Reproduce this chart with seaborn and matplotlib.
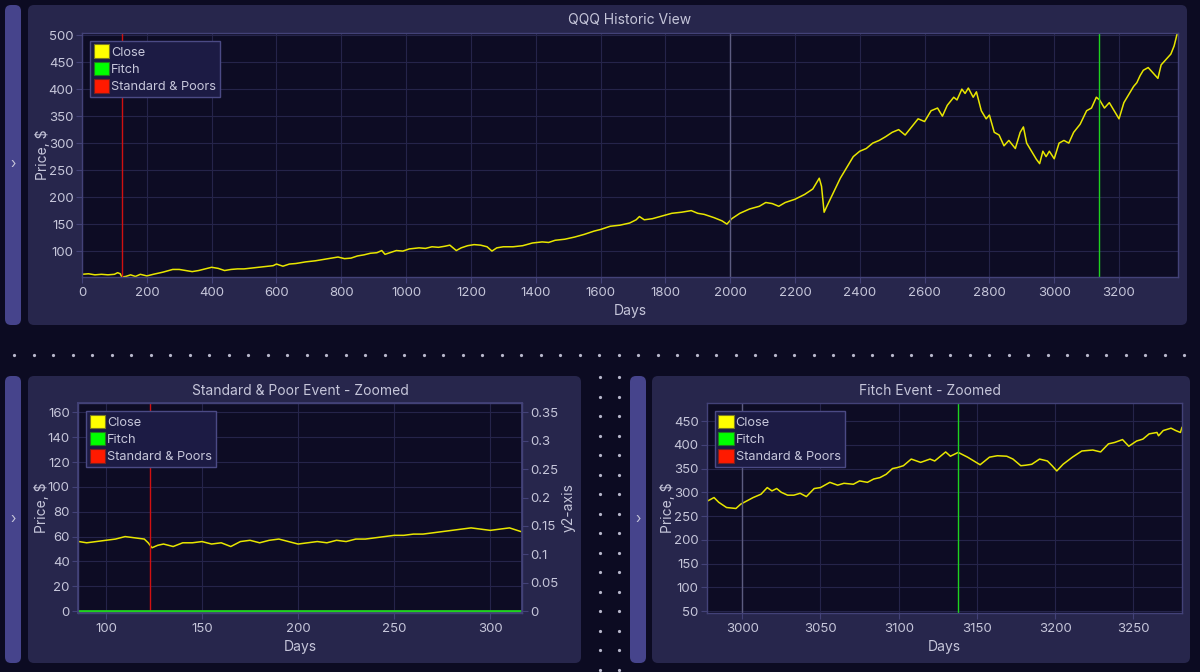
import numpy as np
import matplotlib
matplotlib.use("Agg")
import matplotlib.pyplot as plt
import seaborn as sns
from matplotlib.patches import FancyBboxPatch, Patch
from matplotlib.lines import Line2D
from matplotlib.transforms import IdentityTransform
from matplotlib.ticker import FuncFormatter

# --- Data ---
# full history (day index, close price)
hist_days = [0, 20, 40, 60, 80, 100, 110, 118, 123, 135, 150, 165, 180, 200, 220, 250, 280, 300,
             320, 340, 360, 380, 400, 420, 440, 460, 480, 500, 530, 560, 590, 600, 620, 640, 660,
             690, 720, 750, 770, 790, 810, 830, 850, 870, 890, 910, 925, 935, 950, 970, 990, 1010,
             1040, 1060, 1080, 1100, 1120, 1135, 1145, 1155, 1170, 1190, 1210, 1230, 1250, 1265,
             1280, 1300, 1330, 1360, 1390, 1420, 1440, 1460, 1490, 1520, 1550, 1580, 1600, 1630,
             1660, 1690, 1710, 1720, 1735, 1760, 1790, 1820, 1850, 1880, 1900, 1920, 1950, 1975,
             1990, 2005, 2030, 2060, 2090, 2110, 2130, 2150, 2170, 2200, 2230, 2255, 2275, 2282,
             2290, 2300, 2320, 2340, 2360, 2380, 2400, 2420, 2440, 2460, 2480, 2500, 2520, 2540,
             2560, 2580, 2600, 2620, 2640, 2655, 2670, 2690, 2700, 2715, 2725, 2735, 2750, 2760,
             2775, 2790, 2800, 2815, 2830, 2845, 2860, 2880, 2895, 2905, 2915, 2930, 2945, 2955,
             2965, 2975, 2985, 3000, 3015, 3030, 3045, 3060, 3080, 3100, 3115, 3130, 3140, 3155,
             3170, 3185, 3200, 3215, 3230, 3245, 3255, 3265, 3275, 3290, 3305, 3320, 3330, 3345,
             3360, 3370, 3380]
hist_close = [57, 58, 56, 57, 56, 57, 60, 58, 52, 53, 56, 53, 57, 54, 57, 61, 66, 66,
              64, 62, 64, 67, 70, 68, 64, 66, 67, 67, 69, 71, 73, 76, 72, 76, 77,
              80, 82, 85, 87, 89, 86, 87, 91, 93, 96, 97, 101, 94, 97, 101, 100, 104,
              106, 105, 108, 107, 109, 111, 106, 101, 106, 110, 112, 111, 108, 100,
              106, 108, 108, 110, 115, 117, 116, 120, 122, 126, 131, 137, 140, 146,
              148, 152, 158, 164, 158, 160, 165, 170, 172, 175, 170, 168, 162, 156,
              150, 160, 170, 178, 183, 190, 188, 183, 190, 196, 205, 215, 235, 220,
              172, 185, 210, 235, 255, 275, 285, 290, 300, 305, 312, 320, 325, 315,
              330, 345, 340, 360, 365, 350, 370, 385, 380, 400, 392, 402, 385, 395,
              360, 345, 352, 320, 315, 295, 305, 290, 320, 330, 300, 285, 270, 262,
              285, 275, 285, 271, 300, 305, 300, 320, 335, 360, 365, 385, 380, 365,
              375, 360, 345, 375, 390, 405, 412, 425, 435, 440, 430, 420, 445, 455,
              465, 480, 504]

# S&P zoom window
sp_days = [86, 90, 95, 100, 105, 110, 115, 120, 122, 124, 127, 130, 135, 140, 145, 150, 155,
           160, 165, 170, 175, 180, 185, 190, 195, 200, 205, 210, 215, 220, 225, 230, 235,
           240, 245, 250, 255, 260, 265, 270, 275, 280, 285, 290, 295, 300, 305, 310, 316]
sp_close = [56, 55, 56, 57, 58, 60, 59, 58, 55, 51, 53, 54, 52, 55, 55, 56, 54,
            55, 52, 56, 57, 55, 57, 58, 56, 54, 55, 56, 55, 57, 56, 58, 58,
            59, 60, 61, 61, 62, 62, 63, 64, 65, 66, 67, 66, 65, 66, 67, 64]

# Fitch zoom window
fitch_days = [2978, 2982, 2985, 2990, 2996, 2999, 3003, 3007, 3012, 3016, 3019, 3022, 3025,
              3029, 3033, 3037, 3041, 3046, 3050, 3056, 3061, 3065, 3071, 3075, 3080, 3084,
              3088, 3092, 3096, 3099, 3103, 3108, 3114, 3120, 3123, 3130, 3133, 3138, 3144,
              3152, 3158, 3163, 3169, 3173, 3178, 3181, 3185, 3190, 3195, 3198, 3201, 3205,
              3211, 3217, 3224, 3229, 3234, 3238, 3243, 3247, 3252, 3256, 3260, 3265, 3266,
              3269, 3274, 3277, 3280, 3281]
fitch_close = [282, 289, 279, 268, 266, 275, 282, 289, 296, 310, 303, 308, 300,
               294, 294, 298, 291, 308, 310, 321, 315, 319, 317, 324, 321, 328,
               331, 338, 350, 352, 356, 370, 363, 370, 366, 385, 376, 384, 374,
               358, 374, 377, 376, 370, 356, 357, 359, 370, 366, 356, 345, 359,
               374, 387, 389, 385, 402, 405, 411, 397, 408, 412, 423, 426, 419,
               430, 435, 430, 426, 437]

sp_event_day = 123
fitch_event_day = 3138
marker_days_hist = [2000]
marker_days_fitch = [3000]

legend_labels = ["Close", "Fitch", "Standard & Poors"]

# --- Styling ---
BG = "#0c0b22"
PANEL = "#27264c"
HANDLE = "#46448c"
AX_BG = "#0d0c24"
SPINE = "#434278"
GRID = "#25244a"
TXT = "#c6c6da"
YELLOW = "#e8e600"
GREEN = "#1fd21f"
RED = "#d01010"

sns.set_theme(style="dark")
plt.rcParams["font.family"] = ["Inter", "DejaVu Sans"]
plt.rcParams["text.color"] = TXT
plt.rcParams["axes.labelcolor"] = TXT

W, H = 1200, 672
fig = plt.figure(figsize=(12, 6.72), dpi=100, facecolor=BG)
ident = IdentityTransform()


def box(x0, y0, x1, y1, color, r=6):
    # pixel coords measured from the top-left
    p = FancyBboxPatch((x0, H - y1), x1 - x0, y1 - y0,
                       boxstyle=f"round,pad=0,rounding_size={r}",
                       facecolor=color, edgecolor="none", transform=ident, zorder=0)
    fig.add_artist(p)


def ax_at(x0, y0, x1, y1):
    return fig.add_axes([x0 / W, 1 - y1 / H, (x1 - x0) / W, (y1 - y0) / H])


def chevron(x, y):
    fig.text(x / W, 1 - y / H, "›", ha="center", va="center", color=TXT, fontsize=10)


# panels and side handles
box(5, 5, 21, 325, HANDLE)
box(28, 5, 1187, 325, PANEL)
box(5, 376, 21, 663, HANDLE)
box(28, 376, 581, 663, PANEL)
box(630, 376, 646, 663, HANDLE)
box(652, 376, 1190, 663, PANEL)
chevron(13, 164)
chevron(13, 519)
chevron(638, 519)

# dotted separators
xs = np.arange(14, 1200, 19.5)
fig.add_artist(Line2D(xs, np.full(len(xs), H - 355), ls="none", marker="o", ms=1.3,
                      color="#b8b8cc", transform=ident))
ys = np.arange(377, 672, 19.5)
for cx in (600, 619):
    fig.add_artist(Line2D(np.full(len(ys), cx), H - ys, ls="none", marker="o", ms=1.3,
                          color="#b8b8cc", transform=ident))

legend_handles = [Patch(facecolor="#ffff00", edgecolor="#7a7a20", lw=0.8),
                  Patch(facecolor="#00ff00", edgecolor="#207a20", lw=0.8),
                  Patch(facecolor="#ff1a00", edgecolor="#7a2020", lw=0.8)]


def style_axes(ax):
    ax.set_facecolor(AX_BG)
    for s in ax.spines.values():
        s.set_color(SPINE)
        s.set_linewidth(1)
    ax.grid(True, color=GRID, lw=0.8)
    ax.tick_params(colors=SPINE, labelcolor=TXT, labelsize=9.5, length=4, width=0.8,
                   bottom=True, left=True)
    ax.tick_params(axis="y", pad=2)
    ax.set_xlabel("Days", fontsize=10, labelpad=3)
    ax.set_ylabel("Price, $", fontsize=10, labelpad=-1)
    leg = ax.legend(legend_handles, legend_labels, loc="upper left", fontsize=9.2,
                    handlelength=1.2, handleheight=1.25, handletextpad=0.15,
                    labelspacing=0.25, borderaxespad=0.6, borderpad=0.3,
                    fancybox=False, framealpha=1, facecolor="#1c1b44", edgecolor="#4b4a85")
    for t in leg.get_texts():
        t.set_color(TXT)
    leg.set_zorder(10)


# --- Top: full history ---
ax = ax_at(82, 33, 1178, 277)
sns.lineplot(x=hist_days, y=hist_close, ax=ax, color=YELLOW, lw=1.1)
for d in marker_days_hist:
    ax.axvline(d, color="#5c5c80", lw=1)
ax.axvline(sp_event_day, color=RED, lw=1)
ax.axvline(fitch_event_day, color=GREEN, lw=1)
ax.set_xlim(0, 3382)
ax.set_ylim(52, 504)
ax.set_xticks(range(0, 3201, 200))
ax.set_yticks(range(100, 501, 50))
style_axes(ax)
fig.text(630 / W, 1 - 20 / H, "QQQ Historic View", ha="center", va="center",
         fontsize=10, color=TXT)

# --- Bottom left: S&P event zoom ---
ax2 = ax_at(78, 403, 522, 613)
sns.lineplot(x=sp_days, y=sp_close, ax=ax2, color=YELLOW, lw=1.1)
ax2.axvline(sp_event_day, color=RED, lw=1)
ax2.set_xlim(85.5, 316.5)
ax2.set_ylim(-1.5, 167.5)
ax2.set_xticks(range(100, 301, 50))
ax2.set_yticks(range(0, 161, 20))
style_axes(ax2)
ax2r = ax2.twinx()
sns.lineplot(x=sp_days, y=[0] * len(sp_days), ax=ax2r, color=GREEN, lw=2)
ax2r.set_ylim(-1.5 * 0.35 / 160, 167.5 * 0.35 / 160)
ax2r.set_yticks(np.arange(0, 0.351, 0.05))
ax2r.yaxis.set_major_formatter(FuncFormatter(lambda v, p: f"{v:g}"))
ax2r.tick_params(colors=SPINE, labelcolor=TXT, labelsize=9.5, length=4, width=0.8,
                 right=True, pad=2)
ax2r.set_ylabel("y2-axis", fontsize=10, labelpad=2, color=TXT)
ax2r.grid(False)
for s in ax2r.spines.values():
    s.set_color(SPINE)
fig.text(300 / W, 1 - 391 / H, "Standard & Poor Event - Zoomed", ha="center", va="center",
         fontsize=10, color=TXT)

# --- Bottom right: Fitch event zoom ---
ax3 = ax_at(707, 403, 1182, 613)
sns.lineplot(x=fitch_days, y=fitch_close, ax=ax3, color=YELLOW, lw=1.1)
for d in marker_days_fitch:
    ax3.axvline(d, color="#5c5c80", lw=1)
ax3.axvline(fitch_event_day, color=GREEN, lw=1)
ax3.set_xlim(2977.5, 3281)
ax3.set_ylim(46, 488)
ax3.set_xticks(range(3000, 3251, 50))
ax3.set_yticks(range(50, 451, 50))
style_axes(ax3)
fig.text(930 / W, 1 - 391 / H, "Fitch Event - Zoomed", ha="center", va="center",
         fontsize=10, color=TXT)

fig.savefig("out.png", dpi=100, facecolor=BG)
